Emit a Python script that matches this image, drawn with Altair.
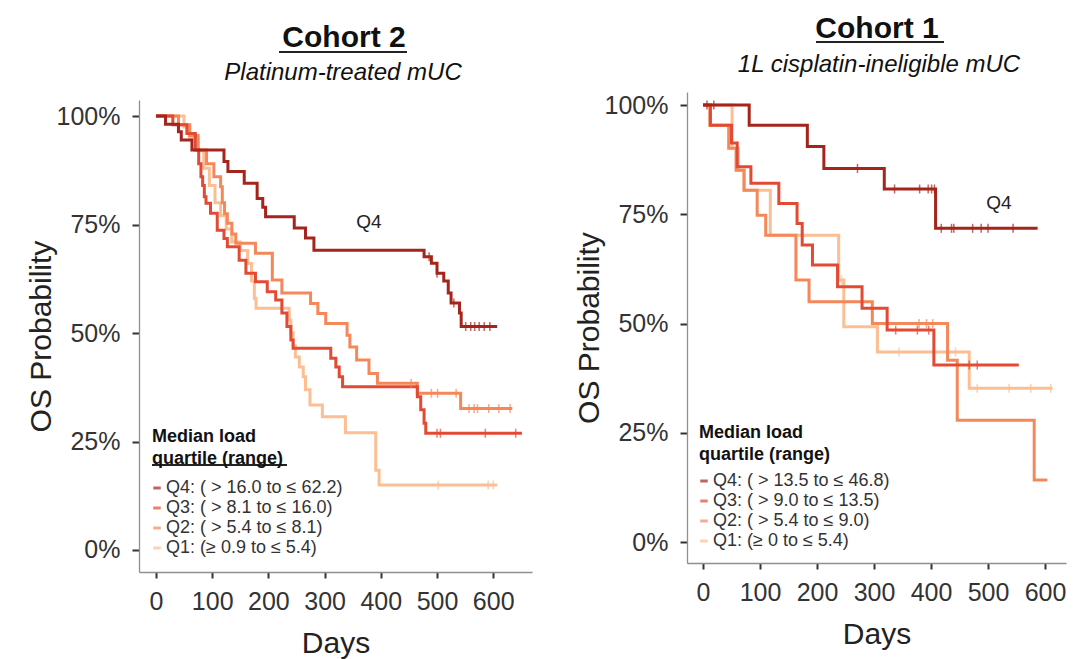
import altair as alt
import pandas as pd

FONT = "Liberation Sans"
COLORS = ["#a5241b", "#e34a33", "#f4885a", "#fbbf93"]
X_TICKS = [0, 100, 200, 300, 400, 500, 600]
Y_TICKS = [0, 25, 50, 75, 100]

# ---------------- Cohort 2 (left panel) ----------------
C2_LABELS = ["Q4: ( > 16.0 to ≤ 62.2)", "Q3: ( > 8.1 to ≤ 16.0)",
             "Q2: ( > 5.4 to ≤ 8.1)", "Q1: (≥ 0.9 to ≤ 5.4)"]

C2_Q4_DAYS = [0, 17, 40, 45, 64, 121, 128, 157, 180, 190, 195, 246, 266, 281, 477, 490, 500, 512, 520, 525, 540, 543]
C2_Q4_SURV = [100, 98.1, 96.4, 94.5, 92.2, 89.5, 87.2, 84.5, 81.0, 79.0, 76.8, 74.2, 71.9, 69.1, 67.6, 66.1, 63.8, 62.0, 59.2, 56.9, 54.6, 51.5]
C2_Q4_END = 607
C2_Q4_CENSOR = [486, 500, 530, 551, 560, 567, 575, 584, 594]

C2_Q3_DAYS = [0, 30, 55, 70, 76, 80, 83, 86, 89, 97, 109, 121, 127, 148, 160, 177, 198, 213, 224, 233, 240, 244, 311, 320, 326, 332, 465, 471, 477, 480]
C2_Q3_SURV = [100, 98, 96, 92.2, 89, 86, 84, 81.4, 79.9, 77.6, 73.7, 71.8, 69.9, 66.8, 63.8, 61.8, 59.5, 57.6, 54.6, 51.5, 48.4, 46.5, 44.2, 42.2, 39.9, 37.6, 35.3, 32.3, 29.2, 26.9]
C2_Q3_END = 651
C2_Q3_CENSOR = [500, 506, 586, 640]

C2_Q2_DAYS = [0, 40, 60, 75, 90, 103, 115, 118, 122, 127, 135, 142, 177, 207, 224, 275, 288, 302, 340, 345, 357, 379, 394, 465, 542]
C2_Q2_SURV = [100, 98, 95.5, 92.2, 89, 86, 83.7, 80, 77.5, 75.3, 72.8, 70.7, 68.4, 62.2, 59.2, 56.8, 54.5, 52.2, 49.5, 46.8, 43.8, 40.7, 38.4, 36.1, 32.6]
C2_Q2_END = 634
C2_Q2_CENSOR = [454, 490, 501, 534, 557, 566, 572, 592, 610, 630]

C2_Q1_DAYS = [0, 50, 60, 75, 85, 95, 105, 115, 125, 135, 150, 163, 170, 175, 178, 237, 240, 244, 248, 255, 262, 266, 274, 296, 337, 391, 397]
C2_Q1_SURV = [100, 97.5, 95, 92, 88, 84, 80, 77, 74, 71, 69, 66, 62, 58, 55.7, 53, 50, 47, 44.5, 42.2, 39.9, 36.9, 33.4, 30.7, 27, 18.4, 15]
C2_Q1_END = 607
C2_Q1_CENSOR = [502, 591, 600]

C2_Q4_TEXT = ("Q4", 379, 75.6)

# ---------------- Cohort 1 (right panel) ----------------
C1_LABELS = ["Q4: ( > 13.5 to ≤ 46.8)", "Q3: ( > 9.0 to ≤ 13.5)",
             "Q2: ( > 5.4 to ≤ 9.0)", "Q1: (≥ 0 to ≤ 5.4)"]

C1_Q4_DAYS = [0, 81, 183, 212, 318, 408]
C1_Q4_SURV = [100, 95.4, 90.5, 85.5, 80.8, 71.8]
C1_Q4_END = 587
C1_Q4_CENSOR = [7, 19, 271, 336, 380, 395, 401, 406, 418, 436, 440, 473, 488, 500, 544]

C1_Q3_DAYS = [0, 13, 50, 60, 84, 133, 165, 174, 192, 236, 279, 323, 405]
C1_Q3_SURV = [100, 95.4, 91.3, 85.9, 82.1, 77.5, 72.9, 68.0, 63.4, 58.4, 53.5, 48.5, 40.5]
C1_Q3_END = 554
C1_Q3_CENSOR = [338, 376, 396, 467, 481]

C1_Q2_DAYS = [0, 12, 45, 58, 72, 95, 110, 163, 186, 297, 429, 446, 581]
C1_Q2_SURV = [100, 95.4, 90.1, 85.1, 80.5, 74.8, 70.2, 60.0, 55.0, 50.0, 41.6, 27.9, 14.2]
C1_Q2_END = 604
C1_Q2_CENSOR = [379, 392, 403]

C1_Q1_DAYS = [0, 51, 62, 72, 118, 238, 247, 306, 467]
C1_Q1_SURV = [100, 90.1, 85.1, 80.5, 70.2, 60.0, 49.3, 43.5, 35.2]
C1_Q1_END = 613
C1_Q1_CENSOR = [243, 344, 443, 481, 537, 575, 610]

C1_Q4_TEXT = ("Q4", 519, 77.5)


def build(curves, labels):
    line_rows, cens_rows = [], []
    # draw Q1 first so that Q4 ends on top
    for (days, surv, end, cens), lab, col in reversed(list(zip(curves, labels, COLORS))):
        for d, s in zip(days, surv):
            line_rows.append({"day": d, "surv": s, "q": lab})
        line_rows.append({"day": end, "surv": surv[-1], "q": lab})
        for c in cens:
            s_at = surv[0]
            for d, s in zip(days, surv):
                if d <= c:
                    s_at = s
            cens_rows.append({"day": c, "surv": s_at, "col": col})
    return pd.DataFrame(line_rows), pd.DataFrame(cens_rows)


ONE = pd.DataFrame({"k": [0]})


def rule(x1, x2, y):
    return alt.Chart(ONE).mark_rule(color="#222", strokeWidth=2).encode(
        x=alt.value(x1), x2=alt.value(x2), y=alt.value(y))


def text(t, x, y, size, weight="normal", style="normal"):
    return alt.Chart(ONE).mark_text(
        font=FONT, fontSize=size, fontWeight=weight, fontStyle=style,
        color="#111", align="center", baseline="alphabetic").encode(
        x=alt.value(x), y=alt.value(y), text=alt.value(t))


def panel(curves, labels, qtext, x_domain, y_domain, y_range, width, height,
          titles, leg_x, leg_y, leg_tpad, underlines):
    lines_df, cens_df = build(curves, labels)
    x = alt.X("day:Q", scale=alt.Scale(domain=x_domain, nice=False, zero=False),
              axis=alt.Axis(values=X_TICKS, title="Days", grid=False,
                            tickSize=6, tickWidth=2, tickColor="#333",
                            domainColor="#8f8f8f", domainWidth=1.3,
                            labelFontSize=25, labelColor="#333", labelPadding=11,
                            labelFlush=False,
                            titleFontSize=30, titleFontWeight="normal",
                            titleColor="#222", titlePadding=14))
    y = alt.Y("surv:Q", scale=alt.Scale(domain=y_domain, range=y_range, nice=False, zero=False),
              axis=alt.Axis(values=Y_TICKS, labelExpr="datum.value + '%'",
                            title="OS Probability", grid=False,
                            tickSize=7, tickWidth=2, tickColor="#333",
                            domainColor="#8f8f8f", domainWidth=1.3,
                            labelFontSize=25, labelColor="#333", labelPadding=12,
                            labelFlush=False,
                            titleFontSize=30, titleFontWeight="normal",
                            titleColor="#222", titlePadding=0))
    legend = alt.Legend(orient="none", legendX=leg_x, legendY=leg_y,
                        title=["Median load", "quartile (range)"],
                        titleFontSize=18, titleFontWeight="bold", titleColor="#111",
                        titleLineHeight=22, titlePadding=leg_tpad, titleLimit=400,
                        labelFontSize=18, labelColor="#333", labelOffset=0,
                        labelLimit=400, symbolOffset=-4,
                        symbolType="stroke", symbolSize=56, symbolStrokeWidth=3,
                        rowPadding=2, padding=0)
    lines = alt.Chart(lines_df).mark_line(interpolate="step-after", strokeWidth=3).encode(
        x=x, y=y,
        color=alt.Color("q:N", scale=alt.Scale(domain=labels, range=COLORS), legend=legend),
        order=alt.Order("day:Q"))
    ticks = alt.Chart(cens_df).mark_tick(orient="vertical", size=9, thickness=1.5).encode(
        x=x, y=y, color=alt.Color("col:N", scale=None))
    qdf = pd.DataFrame({"t": [qtext[0]], "day": [qtext[1]], "surv": [qtext[2]]})
    qlab = alt.Chart(qdf).mark_text(fontSize=19, font=FONT, color="#222").encode(
        x=x, y=y, text="t:N")
    (t1, tx1, ty1), (t2, tx2, ty2) = titles
    layers = [lines, ticks, qlab,
              text(t1, tx1, ty1, 30, weight="bold"),
              text(t2, tx2, ty2, 24, style="italic")] + [rule(*u) for u in underlines]
    return alt.layer(*layers).properties(width=width, height=height)


left = panel(
    [(C2_Q4_DAYS, C2_Q4_SURV, C2_Q4_END, C2_Q4_CENSOR),
     (C2_Q3_DAYS, C2_Q3_SURV, C2_Q3_END, C2_Q3_CENSOR),
     (C2_Q2_DAYS, C2_Q2_SURV, C2_Q2_END, C2_Q2_CENSOR),
     (C2_Q1_DAYS, C2_Q1_SURV, C2_Q1_END, C2_Q1_CENSOR)],
    C2_LABELS, C2_Q4_TEXT,
    x_domain=[-30.2, 669], y_domain=[-5.07, 103.7], y_range=[480, 8],
    width=393, height=480,
    titles=[("Cohort 2", 205, -45), ("Platinum-treated mUC", 204, -12)],
    leg_x=13, leg_y=336, leg_tpad=11,
    underlines=[(140, 268, -40), (13, 148, 373)])

right = panel(
    [(C1_Q4_DAYS, C1_Q4_SURV, C1_Q4_END, C1_Q4_CENSOR),
     (C1_Q3_DAYS, C1_Q3_SURV, C1_Q3_END, C1_Q3_CENSOR),
     (C1_Q2_DAYS, C1_Q2_SURV, C1_Q2_END, C1_Q2_CENSOR),
     (C1_Q1_DAYS, C1_Q1_SURV, C1_Q1_END, C1_Q1_CENSOR)],
    C1_LABELS, C1_Q4_TEXT,
    x_domain=[-28.1, 636.8], y_domain=[-4.8, 103.0], y_range=[471, 0],
    width=379, height=471,
    titles=[("Cohort 1", 190, -54), ("1L cisplatin-ineligible mUC", 192, -20)],
    leg_x=12, leg_y=332, leg_tpad=8,
    underlines=[(129, 257, -50)])

chart = alt.hconcat(left, right, spacing=42).resolve_scale(color="independent").configure(
    padding={"left": 18, "top": 6, "right": 5, "bottom": 5},
    font=FONT, background="white").configure_view(stroke=None).configure_axis(
    labelFont=FONT, titleFont=FONT).configure_legend(labelFont=FONT, titleFont=FONT)

chart.save("out.html", embed_options={"renderer": "svg", "actions": False})
